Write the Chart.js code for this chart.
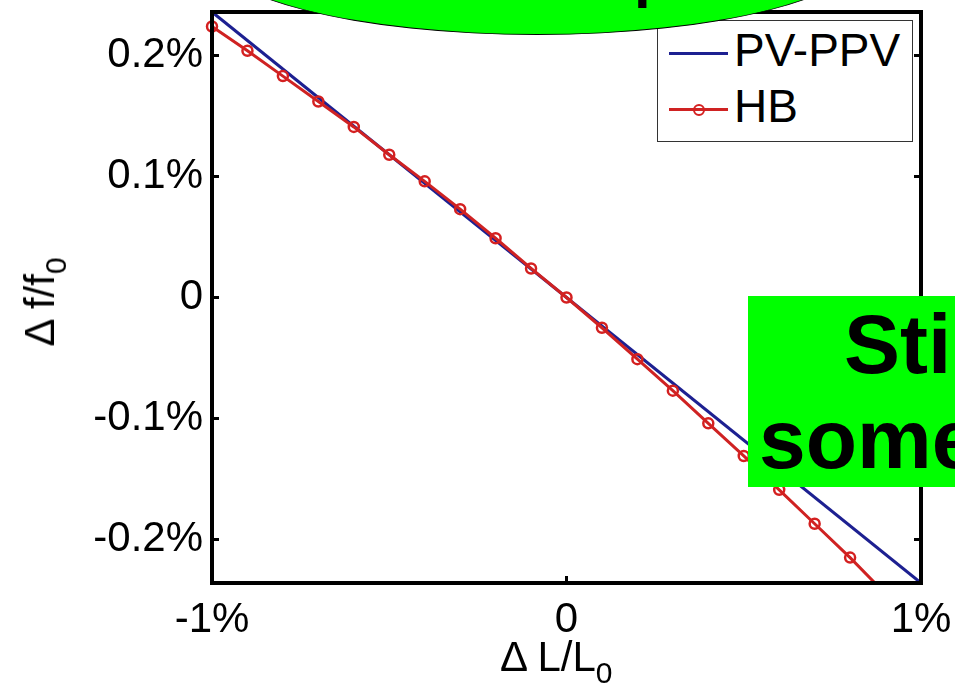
<!DOCTYPE html>
<html>
<head>
<meta charset="utf-8">
<script src="https://cdn.jsdelivr.net/npm/chart.js@4.4.0/dist/chart.umd.min.js"></script>
<style>
  html, body { margin: 0; padding: 0; background: #fff; overflow: hidden; }
  #wrap { position: relative; width: 955px; height: 690px; overflow: hidden;
          font-family: "Liberation Sans", Arial, sans-serif; color: #000; }
  #box { position: absolute; left: 0; top: 0; width: 955px; height: 690px; }
  #legend { position: absolute; left: 657px; top: 20px; width: 254px; height: 120px;
            background: #fff; border: 1.5px solid #333; font-size: 46px; }
  .row { position: absolute; left: 0; height: 50px; }
  .sample { position: absolute; left: 11px; width: 59px; top: 0; height: 0; border-top: 3px solid; }
  .dot { position: absolute; left: 24px; top: -7px; width: 8px; height: 8px; border: 2.5px solid; border-radius: 50%; }
  .lbl { position: absolute; left: 76px; top: -25px; line-height: 1; white-space: nowrap; }
  .xtitle { position: absolute; left: 500px; top: 636px; font-size: 42px; line-height: 1; white-space: nowrap; }
  .ytitle { position: absolute; left: 40px; top: 302px; font-size: 42px; line-height: 1; white-space: nowrap;
            transform: translate(-50%, -50%) rotate(-90deg); }
  sub { font-size: 30px; vertical-align: -12px; line-height: 0; }
  #ellipse { position: absolute; left: 207px; top: -135px; width: 660px; height: 170px;
             background: #00ff00; border: 1.5px solid #000; border-radius: 50%; box-sizing: border-box; }
  #topword { position: absolute; left: 634px; top: -54px; font-size: 60px; font-weight: bold; line-height: 1; }
  #note { position: absolute; left: 748px; top: 296px; width: 260px; height: 191px; background: #00ff00; }
  #note span { position: absolute; font-size: 84px; font-weight: bold; line-height: 1; white-space: nowrap; }
</style>
</head>
<body>
<div id="wrap">
  <div id="box"><canvas id="myChart"></canvas></div>
  <div id="legend"></div>
  <div class="ytitle">Δ f/f<sub>0</sub></div>
  <div class="xtitle">Δ L/L<sub>0</sub></div>
  <div id="ellipse"></div>
  <div id="topword">p</div>
  <div id="note"><span style="left:96px; top:6px;">Still</span><span style="left:11px; top:101px;">some</span></div>
</div>
<script>
  // values in percent
  const hbX = [-1, -0.9, -0.8, -0.7, -0.6, -0.5, -0.4, -0.3, -0.2, -0.1, 0,
               0.1, 0.2, 0.3, 0.4, 0.5, 0.6, 0.7, 0.8, 0.9, 1];
  const hbY = [0.224, 0.204, 0.183, 0.162, 0.141, 0.118, 0.096, 0.073, 0.049, 0.024, 0,
               -0.025, -0.051, -0.077, -0.104, -0.131, -0.159, -0.187, -0.215, -0.245, -0.273];
  const pvX = [-1, 1];
  const pvY = [0.236, -0.236];
  const xTicks = [-1, 0, 1];
  const yTicks = [-0.2, -0.1, 0, 0.1, 0.2];

  const pctLabel = v => (v === 0 ? '0' : (Number.isInteger(v) ? v : v.toFixed(1)) + '%');

  // black box round the plot with short inner tick marks
  const frame = {
    id: 'frame',
    afterDatasetsDraw(chart) {
      const { ctx, chartArea: a, scales: { x, y } } = chart;
      ctx.save();
      ctx.strokeStyle = '#000';
      ctx.lineWidth = 3;
      ctx.beginPath();
      y.ticks.forEach(t => {
        const py = y.getPixelForValue(t.value);
        ctx.moveTo(a.left, py); ctx.lineTo(a.left + 7, py);
        ctx.moveTo(a.right, py); ctx.lineTo(a.right - 7, py);
      });
      x.ticks.forEach(t => {
        const px = x.getPixelForValue(t.value);
        ctx.moveTo(px, a.bottom); ctx.lineTo(px, a.bottom - 7);
        ctx.moveTo(px, a.top); ctx.lineTo(px, a.top + 7);
      });
      ctx.stroke();
      ctx.lineWidth = 4;
      ctx.strokeRect(a.left, a.top, a.right - a.left, a.bottom - a.top);
      ctx.restore();
    }
  };

  const ctx = document.getElementById('myChart').getContext('2d');
  const myChart = new Chart(ctx, {
    type: 'scatter',
    data: {
      datasets: [
        {
          label: 'PV-PPV',
          data: pvX.map((v, i) => ({ x: v, y: pvY[i] })),
          showLine: true,
          borderColor: '#1d2091',
          borderWidth: 3,
          pointRadius: 0,
          order: 1,
          clip: { left: 2, top: 2, right: 2, bottom: 1 },
        },
        {
          label: 'HB',
          data: hbX.map((v, i) => ({ x: v, y: hbY[i] })),
          showLine: true,
          borderColor: '#cf2222',
          borderWidth: 3,
          pointRadius: 5,
          pointBorderWidth: 2.5,
          pointBorderColor: '#d42020',
          pointBackgroundColor: 'rgba(255,255,255,0)',
          order: 0,
          clip: { left: 8, top: 2, right: 2, bottom: 1 },
        },
      ],
    },
    options: {
      responsive: true,
      maintainAspectRatio: false,
      animation: false,
      events: [],
      layout: { padding: { left: 0, top: 12, right: 34, bottom: 0 } },
      plugins: {
        legend: { display: false },
        tooltip: { enabled: false },
      },
      scales: {
        x: {
          type: 'linear',
          min: -1,
          max: 1,
          afterBuildTicks: s => { s.ticks = xTicks.map(v => ({ value: v })); },
          afterFit: s => { s.height = 107; s.paddingLeft = 0; s.paddingRight = 0; },
          grid: { display: false, drawTicks: false },
          border: { display: false },
          ticks: {
            padding: 12,
            maxRotation: 0,
            color: '#000',
            font: { family: '"Liberation Sans", Arial, sans-serif', size: 42 },
            callback: v => pctLabel(v),
          },
        },
        y: {
          min: -0.236,
          max: 0.236,
          afterBuildTicks: s => { s.ticks = yTicks.map(v => ({ value: v })); },
          afterFit: s => { s.width = 212; s.paddingTop = 0; s.paddingBottom = 0; },
          grid: { display: false, drawTicks: false },
          border: { display: false },
          ticks: {
            padding: 9,
            color: '#000',
            font: { family: '"Liberation Sans", Arial, sans-serif', size: 42 },
            callback: v => pctLabel(v),
          },
        },
      },
    },
    plugins: [frame],
  });

  // legend box built from the datasets
  const legend = document.getElementById('legend');
  myChart.data.datasets.forEach((ds, i) => {
    const row = document.createElement('div');
    row.className = 'row';
    row.style.top = (31 + i * 56) + 'px';
    const sample = document.createElement('div');
    sample.className = 'sample';
    sample.style.borderColor = ds.borderColor;
    if (ds.pointRadius > 0) {
      const dot = document.createElement('div');
      dot.className = 'dot';
      dot.style.borderColor = ds.pointBorderColor;
      sample.appendChild(dot);
    }
    const lbl = document.createElement('div');
    lbl.className = 'lbl';
    lbl.textContent = ds.label;
    row.appendChild(sample);
    row.appendChild(lbl);
    legend.appendChild(row);
  });
</script>
</body>
</html>
